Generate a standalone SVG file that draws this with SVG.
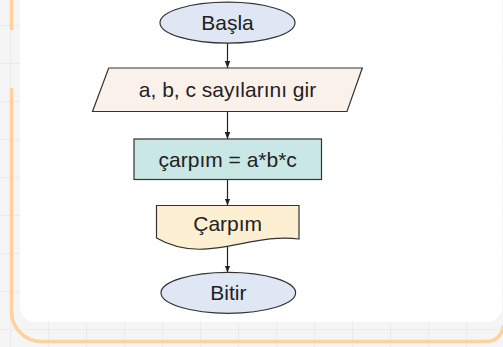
<svg xmlns="http://www.w3.org/2000/svg" width="503" height="347" viewBox="0 0 503 347">
  <defs>
    <pattern id="grid" x="10" y="25" width="38" height="38" patternUnits="userSpaceOnUse">
      <path d="M0,0 H38 M0,0 V38" fill="none" stroke="#e4e4e4" stroke-width="1.2"/>
    </pattern>
    <marker id="arr" markerWidth="8" markerHeight="8" refX="7" refY="4" orient="auto" markerUnits="userSpaceOnUse">
      <path d="M0,1.2 L7,4 L0,6.8 Z" fill="#222"/>
    </marker>
  </defs>
  <style>
    .lbl { font-family: "Liberation Sans", Arial, sans-serif; font-size: 21px; fill: #222; text-anchor: middle; }
    .shape { stroke: #333; stroke-width: 1.2; }
    .conn { stroke: #222; stroke-width: 1.2; fill: none; marker-end: url(#arr); }
  </style>

  <!-- background -->
  <rect x="0" y="0" width="503" height="347" fill="#f5f5f5"/>
  <rect x="0" y="0" width="503" height="347" fill="url(#grid)"/>

  <!-- orange frame -->
  <path d="M11.5,0 V30 M11.5,88 V311.5 A30,30 0 0 0 41.5,341.5 H487 A16,16 0 0 0 503,325.5" fill="none" stroke="#fed19d" stroke-width="3.5"/>

  <!-- white card -->
  <rect x="20" y="-30" width="482" height="352" rx="15" fill="#ffffff"/>

  <!-- connectors -->
  <g id="connectors">
    <line class="conn" x1="227.5" y1="43" x2="227.5" y2="68"/>
    <line class="conn" x1="227.5" y1="111.5" x2="227.5" y2="139"/>
    <line class="conn" x1="227.5" y1="179.5" x2="227.5" y2="205.5"/>
    <line class="conn" x1="227.5" y1="246" x2="227.5" y2="272.5"/>
  </g>

  <g id="start">
    <ellipse class="shape" cx="227.5" cy="22.7" rx="67.5" ry="20.5" fill="#dfe6f4"/>
    <text class="lbl" x="227.5" y="29.8">Başla</text>
  </g>

  <g id="input">
    <polygon class="shape" points="108.7,68 362.3,68 347,111.5 92.5,111.5" fill="#fbf1eb"/>
    <text class="lbl" x="227.5" y="97">a, b, c sayılarını gir</text>
  </g>

  <g id="process">
    <rect class="shape" x="134" y="139" width="187.5" height="40.5" fill="#c9e7e4"/>
    <text class="lbl" x="227.7" y="166.8">çarpım = a*b*c</text>
  </g>

  <g id="output">
    <path class="shape" d="M156.5,205.5 H299 V239 C250,232 205,266 156.5,238 Z" fill="#fdefd1"/>
    <text class="lbl" x="227.7" y="231.3">Çarpım</text>
  </g>

  <g id="end">
    <ellipse class="shape" cx="228.3" cy="292.8" rx="67.3" ry="20.5" fill="#dfe6f4"/>
    <text class="lbl" x="228.3" y="299.8">Bitir</text>
  </g>
</svg>
